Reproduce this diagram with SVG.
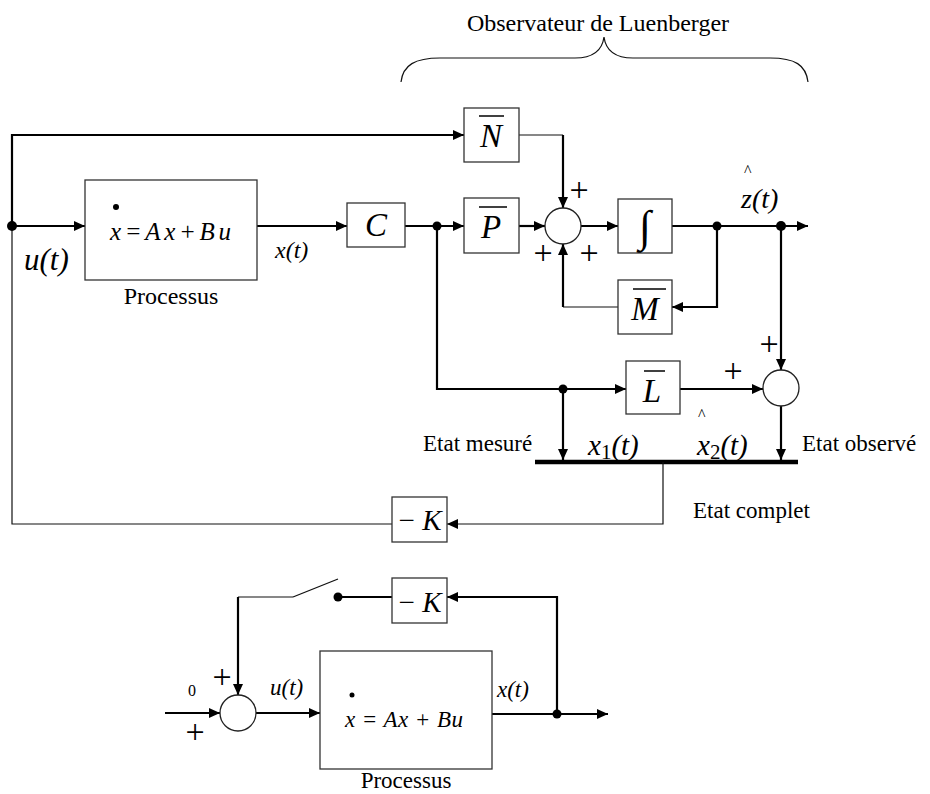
<svg xmlns="http://www.w3.org/2000/svg" width="930" height="794" viewBox="0 0 930 794">
<style>
.bg{fill:#fff}
.box{fill:#fff;stroke:#333;stroke-width:1.3}
.sum{fill:#fff;stroke:#222;stroke-width:1.3}
.w{fill:none;stroke:#000;stroke-width:2.2}
.t{fill:none;stroke:#111;stroke-width:1.2}
.dot{fill:#000}
.lbl{font-family:"Liberation Serif","Times New Roman",serif;fill:#000}
.it{font-style:italic}
.ctr{text-anchor:middle}
.ob{stroke:#000;stroke-width:1.5}
.pl{font-family:"Liberation Serif","Times New Roman",serif;fill:#000;font-size:34px;text-anchor:middle}
</style>
<defs>
<marker id="ah" markerUnits="userSpaceOnUse" markerWidth="11" markerHeight="10" refX="11" refY="5" orient="auto">
<path d="M0,0 L11,5 L0,10 z" fill="#000"/>
</marker>
</defs>
<rect class="bg" width="930" height="794"/>

<g id="observer-label">
<text class="lbl ctr" x="598" y="31" font-size="24">Observateur de Luenberger</text>
<path class="t" d="M401,82 C403,65 415,58 440,58 L575,58 C592,58 602,52 604,37 C606,52 616,58 633,58 L770,58 C795,58 806,65 808,82"/>
</g>

<g id="connectors">
<path class="w" d="M12,226 V135 H464" marker-end="url(#ah)"/>
<path class="w" d="M12,226 H85" marker-end="url(#ah)"/>
<path class="t" d="M392,524 H12 V226"/>
<path class="w" d="M257,226 H347" marker-end="url(#ah)"/>
<path class="w" d="M405,226 H464" marker-end="url(#ah)"/>
<path class="w" d="M519,226 H545" marker-end="url(#ah)"/>
<path class="t" d="M519,135 H563"/>
<path class="w" d="M563,135 V208" marker-end="url(#ah)"/>
<path class="w" d="M581,226 H618" marker-end="url(#ah)"/>
<path class="w" d="M672,226 H808" marker-end="url(#ah)"/>
<path class="w" d="M717,226 V307 H672" marker-end="url(#ah)"/>
<path class="t" d="M618,307 H563"/>
<path class="w" d="M563,307 V244" marker-end="url(#ah)"/>
<path class="w" d="M437,226 V389 H626" marker-end="url(#ah)"/>
<path class="w" d="M680,389 H763" marker-end="url(#ah)"/>
<path class="w" d="M781,226 V370" marker-end="url(#ah)"/>
<path class="w" d="M781,406 V460" marker-end="url(#ah)"/>
<path class="w" d="M563,389 V460" marker-end="url(#ah)"/>
<path d="M535,462 H798" stroke="#000" stroke-width="4.5" fill="none"/>
<path class="t" d="M663,462 V524 H447" marker-end="url(#ah)"/>
<path class="w" d="M165,713 H220" marker-end="url(#ah)"/>
<path class="w" d="M256,713 H320" marker-end="url(#ah)"/>
<path class="w" d="M492,714 H608" marker-end="url(#ah)"/>
<path class="w" d="M557,714 V597 H447" marker-end="url(#ah)"/>
<path class="w" d="M392,597 H338"/>
<path class="t" d="M293,597 L338,579"/>
<path class="t" d="M293,597 H238"/>
<path class="w" d="M238,597 V695" marker-end="url(#ah)"/>
</g>

<g id="junctions">
<circle class="dot" cx="12" cy="226" r="5"/>
<circle class="dot" cx="437" cy="226" r="4.5"/>
<circle class="dot" cx="717" cy="226" r="4.5"/>
<circle class="dot" cx="781" cy="226" r="5"/>
<circle class="dot" cx="563" cy="389" r="4.5"/>
<circle class="dot" cx="557" cy="714" r="4.5"/>
<circle class="dot" cx="338" cy="597" r="4.5"/>
</g>

<g id="processus">
<rect class="box" x="85" y="180" width="172" height="100"/>
<circle class="dot" cx="116" cy="207" r="3"/>
<text class="lbl it" x="110" y="240" font-size="25" textLength="121" lengthAdjust="spacing">x=Ax+Bu</text>
<text class="lbl ctr" x="171" y="304" font-size="24">Processus</text>
</g>

<g id="labels-top">
<text class="lbl it" x="24" y="270" font-size="31">u(t)</text>
<text class="lbl it" x="275" y="258" font-size="24">x(t)</text>
<text class="lbl it" x="741" y="208" font-size="28">z(t)</text>
<text class="lbl" x="744" y="176" font-size="16">^</text>
<text class="lbl" x="698" y="420" font-size="16">^</text>
<text class="lbl" x="423" y="451" font-size="23">Etat mesuré</text>
<text class="lbl it" x="588" y="455" font-size="29">x<tspan font-style="normal" font-size="21" dy="4">1</tspan><tspan dy="-4">(t)</tspan></text>
<text class="lbl it" x="697" y="455" font-size="29">x<tspan font-style="normal" font-size="21" dy="4">2</tspan><tspan dy="-4">(t)</tspan></text>
<text class="lbl" x="802" y="451" font-size="23">Etat observé</text>
<text class="lbl" x="693" y="518" font-size="23">Etat complet</text>
</g>

<g id="C">
<rect class="box" x="347" y="203" width="58" height="44"/>
<text class="lbl it ctr" x="376" y="236" font-size="33">C</text>
</g>

<g id="N">
<rect class="box" x="464" y="108" width="55" height="54"/>
<text class="lbl it ctr" x="491" y="147" font-size="33">N</text>
<line class="ob" x1="479" y1="116" x2="504" y2="116"/>
</g>

<g id="P">
<rect class="box" x="464" y="198" width="55" height="55"/>
<text class="lbl it ctr" x="491" y="238" font-size="33">P</text>
<line class="ob" x1="479" y1="207" x2="507" y2="207"/>
</g>

<g id="sum1">
<circle class="sum" cx="563" cy="226" r="18"/>
<text class="pl" x="579" y="201">+</text>
<text class="pl" x="543" y="264">+</text>
<text class="pl" x="589" y="264">+</text>
</g>

<g id="integrator">
<rect class="box" x="618" y="199" width="54" height="54"/>
<text class="lbl ctr" x="645" y="241" font-size="44">∫</text>
</g>

<g id="M">
<rect class="box" x="618" y="280" width="54" height="54"/>
<text class="lbl it ctr" x="645" y="320" font-size="33">M</text>
<line class="ob" x1="633" y1="289" x2="666" y2="289"/>
</g>

<g id="L">
<rect class="box" x="626" y="361" width="54" height="53"/>
<text class="lbl it ctr" x="652" y="402" font-size="33">L</text>
<line class="ob" x1="644" y1="371" x2="665" y2="371"/>
</g>

<g id="sum2">
<circle class="sum" cx="781" cy="388" r="18"/>
<text class="pl" x="769" y="355">+</text>
<text class="pl" x="733" y="382">+</text>
</g>

<g id="gainK1">
<rect class="box" x="392" y="497" width="55" height="45"/>
<text class="lbl ctr" x="420" y="530" font-size="29">− <tspan class="it">K</tspan></text>
</g>

<g id="sum3">
<circle class="sum" cx="238" cy="713" r="18"/>
<text class="pl" x="222" y="688">+</text>
<text class="pl" x="195" y="743">+</text>
<text class="lbl ctr" x="192" y="696" font-size="16">0</text>
</g>

<g id="gainK2">
<rect class="box" x="392" y="578" width="55" height="45"/>
<text class="lbl ctr" x="420" y="612" font-size="29">− <tspan class="it">K</tspan></text>
</g>

<g id="processus2">
<rect class="box" x="320" y="651" width="172" height="118"/>
<circle class="dot" cx="352" cy="695" r="2.5"/>
<text class="lbl it" x="345" y="727" font-size="23" textLength="118" lengthAdjust="spacing">x = Ax + Bu</text>
<text class="lbl ctr" x="406" y="788" font-size="23">Processus</text>
</g>

<g id="labels-bottom">
<text class="lbl it" x="270" y="695" font-size="23">u(t)</text>
<text class="lbl it" x="497" y="697" font-size="23">x(t)</text>
</g>
</svg>
